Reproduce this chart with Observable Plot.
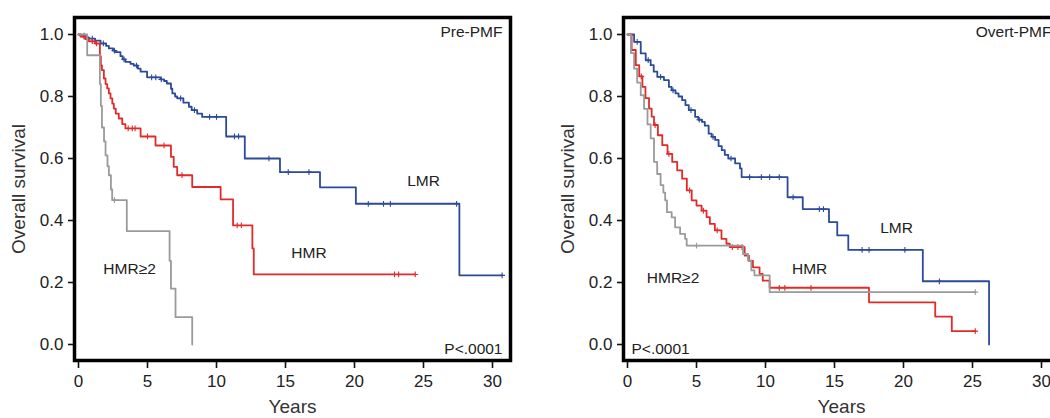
<!DOCTYPE html>
<html><head><meta charset="utf-8">
<script src="https://cdn.jsdelivr.net/npm/d3@7"></script>
<script src="https://cdn.jsdelivr.net/npm/@observablehq/plot@0.6"></script>
<style>
body{margin:0;background:#fff;}
#wrap{position:relative;width:1050px;height:418px;overflow:hidden;background:#fff;}
#wrap svg{position:absolute;top:0;}
</style></head><body><div id="wrap"></div>
<script>
// ---- axis ticks ----
const xTicks = [0, 5, 10, 15, 20, 25, 30];
const yTicks = [0, 0.2, 0.4, 0.6, 0.8, 1.0];
const groups = ["LMR", "HMR", "HMR≥2"];
const panelTitles = ["Pre-PMF", "Overt-PMF"];
const pValue = "P<.0001";

// ---- Pre-PMF ----
const preLmrTime = [0, 0.15, 0.5, 0.75, 1.2, 1.6, 2.0, 2.2, 2.5, 2.7, 3.04, 3.2, 3.4, 3.77, 4.0, 4.3, 4.5, 4.97, 5.94, 6.2, 6.4, 6.7, 6.8, 7.0, 7.15, 7.6, 8.0, 8.2, 8.6, 8.96, 10.7, 12.05, 14.6, 17.5, 20.1, 27.6, 30.7];
const preLmrSurv = [1, 0.996, 0.991, 0.987, 0.98, 0.971, 0.963, 0.955, 0.948, 0.943, 0.93, 0.92, 0.912, 0.905, 0.9, 0.89, 0.88, 0.862, 0.855, 0.85, 0.842, 0.825, 0.81, 0.8, 0.794, 0.78, 0.767, 0.756, 0.745, 0.734, 0.671, 0.6, 0.556, 0.507, 0.454, 0.223, 0.223];
const preLmrCensor = [0.4, 1.0, 1.8, 2.6, 3.3, 4.2, 5.3, 5.6, 6.0, 7.4, 8.4, 9.5, 10.0, 11.3, 11.6, 13.8, 15.2, 16.7, 21.0, 22.1, 22.6, 27.4, 30.7];

const preHmrTime = [0, 0.15, 0.5, 0.75, 1.2, 1.55, 1.62, 1.7, 1.84, 1.96, 2.08, 2.2, 2.32, 2.45, 2.56, 2.7, 2.92, 3.17, 3.4, 4.5, 5.58, 6.7, 6.9, 7.15, 8.24, 10.3, 11.2, 12.6, 12.7, 24.4];
const preHmrSurv = [1, 0.993, 0.985, 0.978, 0.971, 0.93, 0.9, 0.885, 0.858, 0.84, 0.826, 0.81, 0.794, 0.777, 0.761, 0.745, 0.729, 0.711, 0.697, 0.671, 0.642, 0.605, 0.573, 0.546, 0.508, 0.468, 0.384, 0.31, 0.226, 0.226];
const preHmrCensor = [0.4, 1.0, 1.3, 3.6, 3.9, 4.1, 5.0, 6.2, 7.5, 11.5, 11.8, 22.9, 23.2, 24.4];

const preHmr2Time = [0, 0.63, 1.55, 1.62, 1.7, 1.85, 1.96, 2.1, 2.2, 2.35, 2.44, 3.5, 6.6, 6.7, 7.03, 8.24];
const preHmr2Surv = [1, 0.933, 0.84, 0.77, 0.70, 0.655, 0.61, 0.575, 0.546, 0.50, 0.466, 0.366, 0.27, 0.18, 0.088, 0.0];
const preHmr2Censor = [2.6];

// ---- Overt-PMF ----
const ovLmrTime = [0, 0.48, 0.96, 1.32, 1.68, 1.9, 2.16, 2.64, 3.0, 3.2, 3.48, 3.7, 3.96, 4.2, 4.44, 4.9, 5.13, 5.4, 5.6, 5.88, 6.1, 6.35, 6.6, 6.83, 7.05, 7.3, 7.8, 8.15, 8.27, 11.6, 12.7, 14.6, 15.2, 16.0, 21.4, 26.2];
const ovLmrSurv = [1, 0.976, 0.939, 0.917, 0.901, 0.88, 0.863, 0.853, 0.831, 0.82, 0.81, 0.8, 0.788, 0.772, 0.756, 0.734, 0.725, 0.718, 0.706, 0.68, 0.67, 0.66, 0.64, 0.627, 0.612, 0.6, 0.584, 0.568, 0.54, 0.475, 0.437, 0.395, 0.352, 0.305, 0.204, 0];
const ovLmrCensor = [0.7, 1.5, 2.4, 3.3, 4.6, 5.2, 6.2, 7.5, 8.85, 9.7, 10.3, 11.0, 12.0, 13.9, 14.2, 17.0, 17.5, 20.1, 22.6];

const ovHmrTime = [0, 0.3, 0.6, 0.85, 1.08, 1.3, 1.56, 1.75, 1.92, 2.2, 2.52, 2.9, 3.24, 3.6, 3.96, 4.3, 4.65, 5.0, 5.37, 5.73, 5.97, 6.33, 6.81, 7.17, 7.41, 8.49, 8.8, 9.09, 9.57, 9.8, 10.3, 17.5, 22.3, 23.5, 25.2];
const ovHmrSurv = [1, 0.95, 0.901, 0.865, 0.831, 0.795, 0.761, 0.735, 0.708, 0.675, 0.643, 0.615, 0.589, 0.562, 0.535, 0.497, 0.465, 0.448, 0.432, 0.411, 0.389, 0.368, 0.341, 0.325, 0.314, 0.287, 0.27, 0.249, 0.228, 0.206, 0.183, 0.136, 0.09, 0.043, 0.043];
const ovHmrCensor = [1.0, 2.0, 3.0, 4.5, 5.5, 6.5, 7.6, 8.0, 8.3, 11.0, 11.4, 13.3, 25.2];

const ovHmr2Time = [0, 0.25, 0.48, 0.7, 0.96, 1.2, 1.45, 1.68, 1.92, 2.15, 2.4, 2.6, 2.73, 2.86, 3.2, 3.45, 3.81, 4.17, 4.29, 8.37, 8.73, 8.97, 9.2, 10.3, 25.2];
const ovHmr2Surv = [1, 0.94, 0.89, 0.845, 0.804, 0.76, 0.71, 0.665, 0.589, 0.55, 0.514, 0.49, 0.465, 0.427, 0.41, 0.378, 0.357, 0.341, 0.319, 0.292, 0.271, 0.239, 0.223, 0.169, 0.169];
const ovHmr2Censor = [5.0, 25.2];

// ---- curve label anchors (data coordinates) ----
const preLabelT = [25.0, 16.7, 3.7];
const preLabelS = [0.526, 0.295, 0.244];
const ovLabelT = [19.5, 13.2, 3.3];
const ovLabelS = [0.376, 0.242, 0.215];

const colors = ["#2c4a9b", "#e22a2a", "#9a9a9a"];

function series(times, survs) {
  return times.map((t, i) => ({t, s: survs[i]}));
}
function censors(times, survs, cens) {
  return cens.map(t => ({t, s: survs[Math.max(0, d3.bisectRight(times, t) - 1)]}));
}

const titleFont = "'Liberation Sans Narrow', 'Arial Narrow', 'Liberation Sans', sans-serif";

function panel(cfg) {
  const marks = [];
  cfg.curves.forEach((c, i) => {
    marks.push(Plot.line(series(c.time, c.surv), {x: "t", y: "s", curve: "step-after", stroke: colors[i], strokeWidth: 1.8}));
    marks.push(Plot.dot(censors(c.time, c.surv, c.cens), {x: "t", y: "s", symbol: "plus", r: 2, stroke: colors[i], strokeWidth: 1.1}));
  });
  const labels = groups.map((g, i) => ({g, t: cfg.labelT[i], s: cfg.labelS[i]}));
  marks.push(Plot.text(labels, {x: "t", y: "s", text: "g", fontSize: 15.5, fill: "#222"}));
  marks.push(Plot.text([cfg.title], {text: d => d, frameAnchor: "top-right", dx: -8, dy: 8, fontSize: 15.5, fill: "#222"}));
  marks.push(Plot.text([pValue], {text: d => d, frameAnchor: cfg.pAnchor, dx: cfg.pDx, dy: -7, fontSize: 15.5, fill: "#222"}));
  marks.push(Plot.axisX(xTicks, {tickSize: 8, tickPadding: 6, strokeWidth: 1.6, stroke: "#111", fill: "#222", label: null}));
  marks.push(Plot.axisY(yTicks, {tickFormat: d3.format(".1f"), tickSize: 6, tickPadding: 5, strokeWidth: 1.6, stroke: "#111", fill: "#222", label: null}));
  marks.push(Plot.text(["Overall survival"], {text: d => d, frameAnchor: "left", rotate: -90, dx: -56, textAnchor: "middle", lineAnchor: "middle", fontSize: 19, fontFamily: titleFont, fill: "#333"}));
  marks.push(Plot.text(["Years"], {text: d => d, frameAnchor: "bottom", dy: 46, textAnchor: "middle", lineAnchor: "middle", fontSize: 19, fontFamily: titleFont, fill: "#333"}));
  marks.push(Plot.frame({stroke: "#000", strokeWidth: 3.5}));
  const svg = Plot.plot({
    width: 530, height: 418,
    marginLeft: 74, marginRight: 20, marginTop: 17, marginBottom: 58,
    insetLeft: 4, insetRight: 18, insetTop: 17, insetBottom: 16,
    x: {domain: [0, 30]},
    y: {domain: [0, 1]},
    style: {fontFamily: "'Liberation Sans', Arial, sans-serif", fontSize: "17px", background: "transparent", overflow: "visible", color: "#222"},
    marks
  });
  svg.style.left = cfg.left + "px";
  return svg;
}

const wrap = document.getElementById("wrap");
wrap.appendChild(panel({
  left: 0, title: panelTitles[0], pAnchor: "bottom-right", pDx: -8,
  labelT: preLabelT, labelS: preLabelS,
  curves: [
    {time: preLmrTime, surv: preLmrSurv, cens: preLmrCensor},
    {time: preHmrTime, surv: preHmrSurv, cens: preHmrCensor},
    {time: preHmr2Time, surv: preHmr2Surv, cens: preHmr2Censor}
  ]
}));
wrap.appendChild(panel({
  left: 549, title: panelTitles[1], pAnchor: "bottom-left", pDx: 8,
  labelT: ovLabelT, labelS: ovLabelS,
  curves: [
    {time: ovLmrTime, surv: ovLmrSurv, cens: ovLmrCensor},
    {time: ovHmrTime, surv: ovHmrSurv, cens: ovHmrCensor},
    {time: ovHmr2Time, surv: ovHmr2Surv, cens: ovHmr2Censor}
  ]
}));
</script></body></html>
